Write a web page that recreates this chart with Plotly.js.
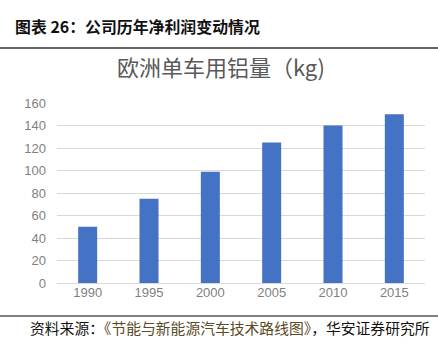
<!DOCTYPE html>
<html>
<head>
<meta charset="utf-8">
<script src="https://cdn.plot.ly/plotly-3.0.1.min.js"></script>
<style>
html,body{margin:0;padding:0;background:#fff;}
#chart{width:438px;height:355px;}
</style>
</head>
<body>
<div id="chart"></div>
<script>
const years = ["1990", "1995", "2000", "2005", "2010", "2015"];
const aluminumKg = [50, 75, 99, 125, 140, 150];
const yTicks = [0, 20, 40, 60, 80, 100, 120, 140, 160];

const headerText = "图表 26：公司历年净利润变动情况";
const chartTitle = "欧洲单车用铝量（kg)";
const sourceText = "资料来源：<span style='color:#5b4a26'>《节能与新能源汽车技术路线图》</span>，华安证券研究所";

const cjk = "'Noto Sans CJK SC', 'Noto Sans', sans-serif";
const latin = "'Liberation Sans', Arial, 'Noto Sans CJK SC', sans-serif";

const trace = {
  type: "bar",
  x: years,
  y: aluminumKg,
  marker: {color: "#4472C4", line: {width: 0}},
  hoverinfo: "none"
};

const layout = {
  width: 438,
  height: 355,
  paper_bgcolor: "#ffffff",
  plot_bgcolor: "#ffffff",
  margin: {l: 57, r: 13, t: 103, b: 72},
  bargap: 0.69,
  showlegend: false,
  title: {
    text: chartTitle,
    font: {family: cjk, size: 22, color: "#595959"},
    x: 221/438, xanchor: "center",
    y: 1 - 68/355, yanchor: "middle",
    xref: "container", yref: "container"
  },
  xaxis: {
    type: "category",
    range: [-0.5, 5.5],
    showgrid: false,
    showline: false,
    zeroline: false,
    ticks: "",
    tickfont: {family: latin, size: 13, color: "#7f7f7f"},
    fixedrange: true
  },
  yaxis: {
    range: [0, 160],
    tickvals: yTicks,
    ticktext: yTicks.map(String),
    showgrid: true,
    gridcolor: "#d9d9d9",
    gridwidth: 1,
    zeroline: true,
    zerolinecolor: "#d9d9d9",
    zerolinewidth: 1,
    showline: false,
    ticks: "",
    ticklabelstandoff: 10,
    tickfont: {family: latin, size: 13, color: "#7f7f7f"},
    fixedrange: true
  },
  shapes: [
    {type: "line", xref: "paper", yref: "paper", x0: -57/368, x1: 381/368,
     y0: 1 + (103-48)/180, y1: 1 + (103-48)/180, line: {color: "#333333", width: 1.5}},
    {type: "line", xref: "paper", yref: "paper", x0: -57/368, x1: 381/368,
     y0: -(316-283)/180, y1: -(316-283)/180, line: {color: "#555555", width: 1.5}}
  ],
  annotations: [
    {text: "<b>" + headerText + "</b>", xref: "paper", yref: "paper",
     x: -44/368, y: 1 + (103-27)/180, xanchor: "left", yanchor: "middle",
     showarrow: false, font: {family: cjk, size: 15.9, color: "#111111"}},
    {text: sourceText, xref: "paper", yref: "paper",
     x: -29/368, y: -(327-283)/180, xanchor: "left", yanchor: "middle",
     showarrow: false, font: {family: cjk, size: 14.8, color: "#111111"}}
  ]
};

Plotly.newPlot("chart", [trace], layout, {displayModeBar: false, staticPlot: true});
</script>
</body>
</html>
